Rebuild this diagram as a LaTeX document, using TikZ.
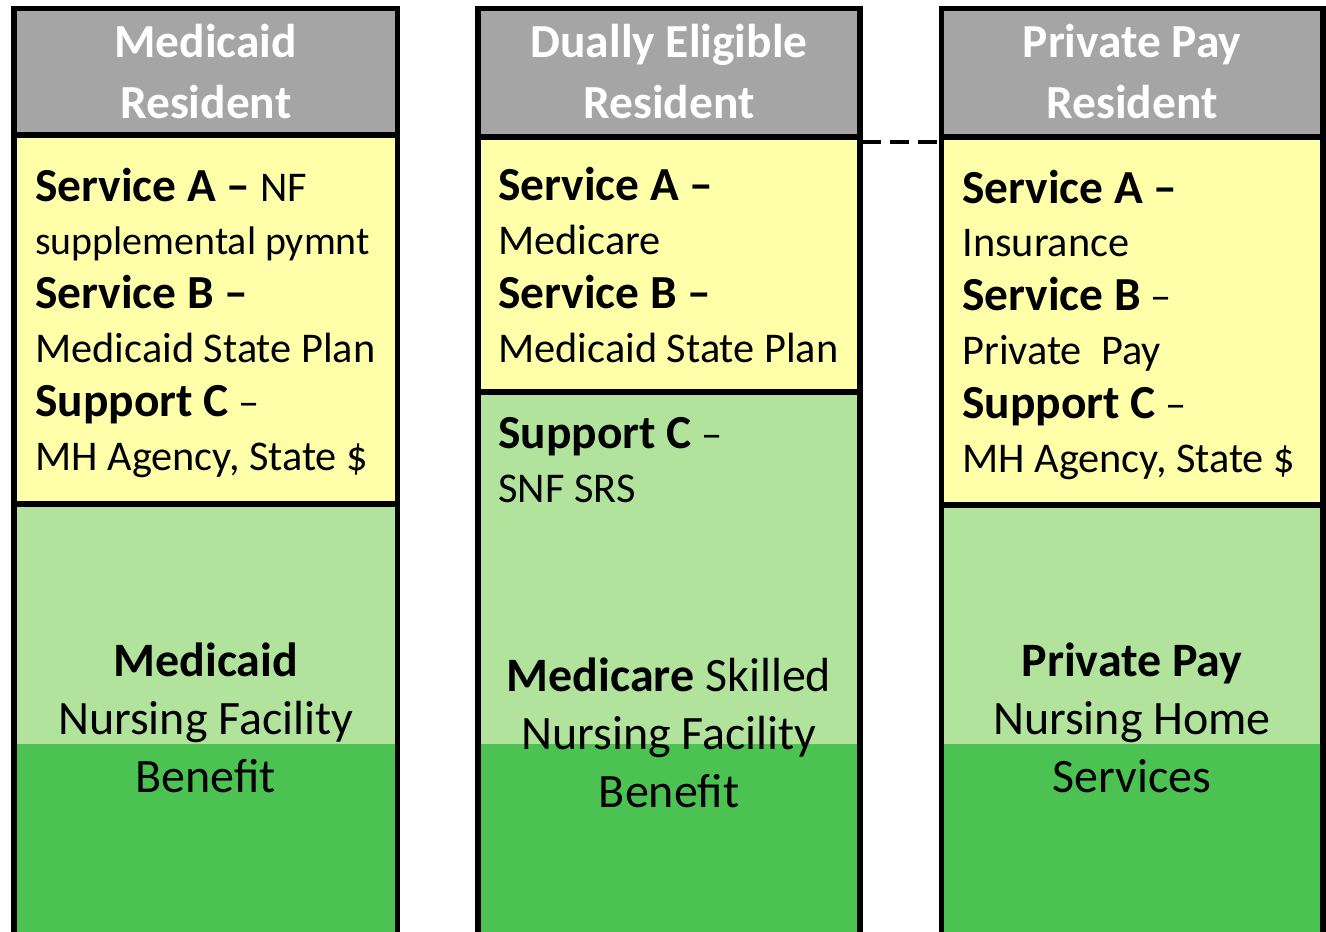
\documentclass[tikz,border=0pt]{standalone}
\usepackage{fontspec}
\setmainfont{Carlito}
\definecolor{hdrgray}{HTML}{A5A5A5}
\definecolor{svcyellow}{HTML}{FFFFAA}
\definecolor{litegreen}{HTML}{B1E39C}
\definecolor{darkgreen}{HTML}{4CC252}

\newcommand{\svclbl}[1]{{\bfseries\fontsize{27}{30.6}\selectfont #1}}

\tikzset{
	colline/.style={line width=2.9pt},
	hdrtext/.style={text=white, font=\bfseries\fontsize{27}{34.5}\selectfont, align=center, anchor=base, inner sep=0pt},
	svctext/.style={font=\fontsize{24.1}{30.6}\selectfont, align=left, anchor=base west, inner sep=0pt},
	bentext/.style={font=\fontsize{27.3}{32.9}\selectfont, align=center, anchor=base, inner sep=0pt}
}

\begin{document}
\begin{tikzpicture}[x=0.02cm,y=-0.02cm]
		\useasboundingbox (0,0) rectangle (1326,931);
		%columns
		\foreach \l/\r/\h/\s in {14/397.5/135/504, 478/860/137/392, 941.5/1323/137/505}{
			\fill[hdrgray] (\l,8.5) rectangle (\r,\h);
			\fill[svcyellow] (\l,\h) rectangle (\r,\s);
			\fill[litegreen] (\l,\s) rectangle (\r,744);
			\fill[darkgreen] (\l,744) rectangle (\r,940);
			\draw[colline] (\l,940) -- (\l,8.5) -- (\r,8.5) -- (\r,940);
			\draw[colline] (\l,\h) -- (\r,\h) (\l,\s) -- (\r,\s);
		}
		%headers (base = last line)
		\node[hdrtext] (medhdr) at (205.75,118) {Medicaid\\Resident};
		\node[hdrtext] (dualhdr) at (669,118) {Dually Eligible\\Resident};
		\node[hdrtext] (privhdr) at (1132,118) {Private Pay\\Resident};
		%services
		\node[svctext] (medsvc) at (35,470) {\svclbl{Service A –} NF\\{\fontsize{22.7}{30.6}\selectfont supplemental pymnt}\\\svclbl{Service B –}\\Medicaid State Plan\\\svclbl{Support C} –\\MH Agency, State \$};
		\node[svctext] (dualsvc) at (498,362) {\svclbl{Service A –}\\Medicare\\\svclbl{Service B –}\\Medicaid State Plan};
		\node[svctext] (dualsup) at (498,502) {\svclbl{Support C} –\\SNF SRS};
		\node[svctext] (privsvc) at (962,472) {\svclbl{Service A –}\\Insurance\\\svclbl{Service B} –\\Private~ Pay\\\svclbl{Support C} –\\MH Agency, State \$};
		%benefits
		\node[bentext] (medben) at (205.75,792) {\textbf{Medicaid}\\Nursing Facility\\Benefit};
		\node[bentext] (dualben) at (669,807) {\textbf{Medicare} Skilled\\Nursing Facility\\Benefit};
		\node[bentext] (privben) at (1132,792) {\textbf{Private Pay}\\Nursing Home\\Services};
		%link
		\coordinate (dualedge) at (862,142);
		\coordinate (privedge) at (941.5,142);
		\draw[line width=2.3pt, dash pattern=on 10.8pt off 5.1pt] (dualedge) -- (privedge);
\end{tikzpicture}
\end{document}
